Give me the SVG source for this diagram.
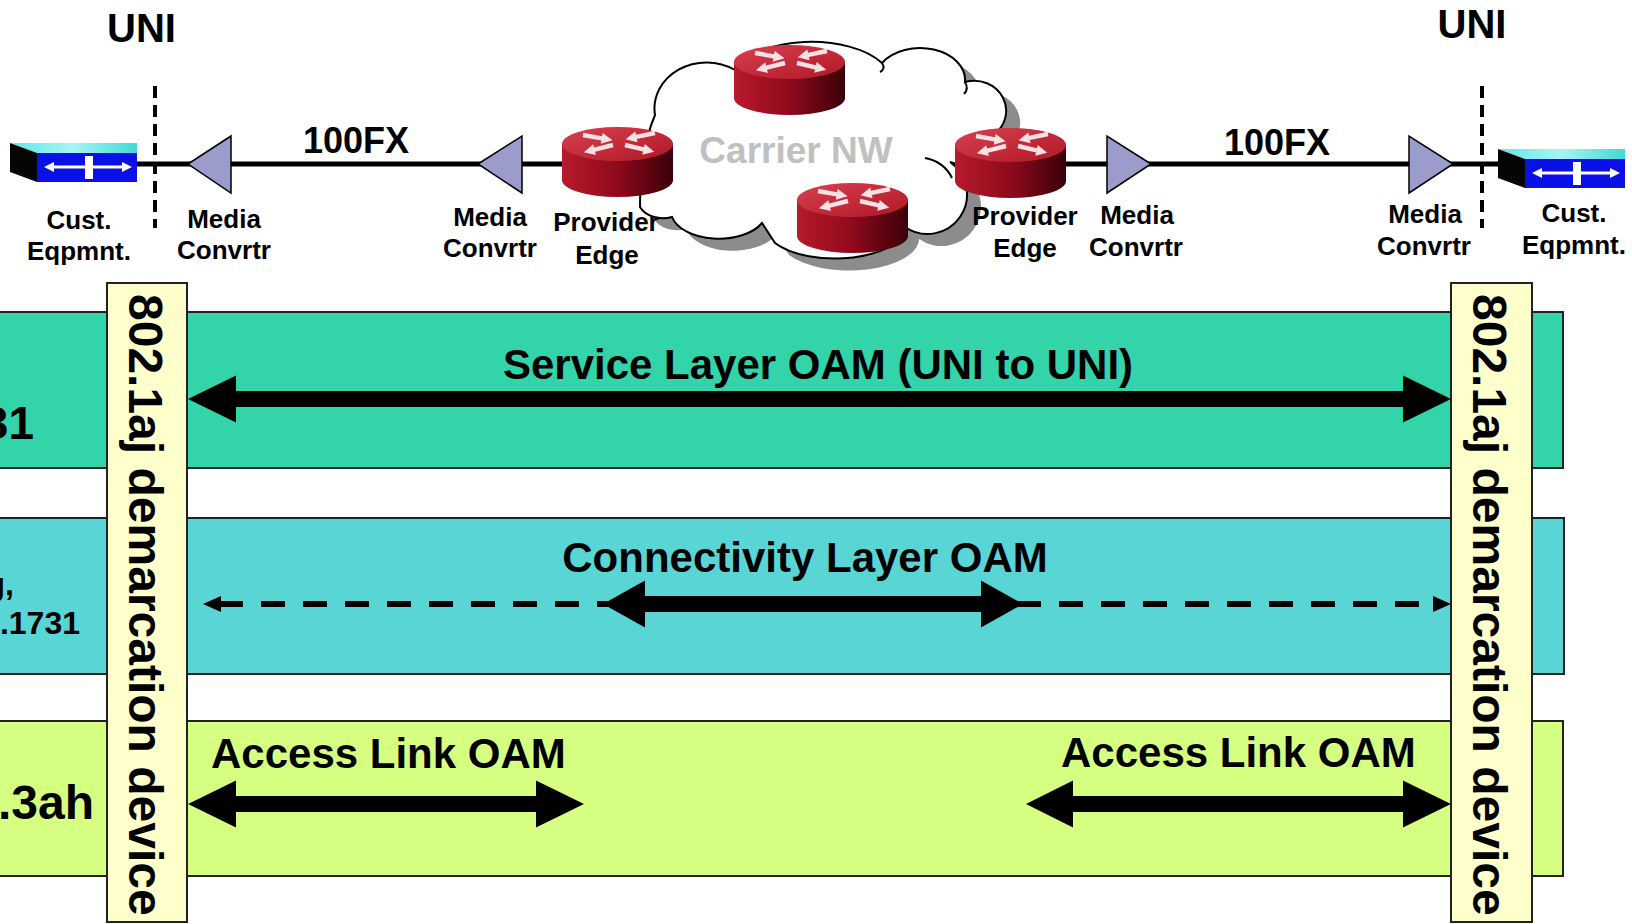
<svg xmlns="http://www.w3.org/2000/svg" width="1632" height="924" viewBox="0 0 1632 924">
<style>
.t{font-family:"Liberation Sans",Arial,sans-serif;font-weight:bold;fill:#000}
.lbl{font-size:26px;text-anchor:middle}
.uni{font-size:40px;text-anchor:middle}
.fx{font-size:36px;text-anchor:middle}
.oam{font-size:42px}
.side{text-anchor:end}
.vert{font-size:48px}
.band{stroke:#222;stroke-width:2}
.col{fill:#FFFFCC;stroke:#222;stroke-width:2}
.mc{fill:#9B9BCC;stroke:#000;stroke-width:1.5}
.link{stroke:#000;stroke-width:5;fill:none}
.uniline{stroke:#000;stroke-width:4;stroke-dasharray:12 7;fill:none}
.thick{fill:#000}
.dash{stroke:#000;stroke-width:6;stroke-dasharray:24 18;fill:none}
</style>
<defs>
<linearGradient id="rBody" x1="0" y1="0" x2="1" y2="0">
<stop offset="0" stop-color="#B81A2C"/>
<stop offset="0.5" stop-color="#8E0A1C"/>
<stop offset="1" stop-color="#3A0008"/>
</linearGradient>
<linearGradient id="rTop" x1="0" y1="0" x2="1" y2="1">
<stop offset="0" stop-color="#D84050"/>
<stop offset="1" stop-color="#B01828"/>
</linearGradient>
<linearGradient id="swTop" x1="0" y1="0" x2="1" y2="0">
<stop offset="0" stop-color="#5FE8E8"/>
<stop offset="0.5" stop-color="#A8F4F4"/>
<stop offset="1" stop-color="#40D8D8"/>
</linearGradient>
<polygon id="arw" points="0,-2.2 19,-2.2 19,-5.5 30,0 19,5.5 19,2.2 0,2.2"/>
<g id="router">
<path d="M0,17 L0,53 A55.5,17 0 0 0 111,53 L111,17 Z" fill="url(#rBody)"/>
<ellipse cx="55.5" cy="17" rx="55.5" ry="17" fill="url(#rTop)"/>
<g fill="#FFF4F4" opacity="0.9">
<use href="#arw" transform="translate(21,8) rotate(10)"/>
<use href="#arw" transform="translate(93,6) rotate(168)"/>
<use href="#arw" transform="translate(51,18) rotate(166)"/>
<use href="#arw" transform="translate(63,18) rotate(13)"/>
</g>
</g>
<g id="switch">
<polygon points="0,0 127,0 127,10 27,10" fill="url(#swTop)"/>
<polygon points="0,0 27,10 27,39 0,29" fill="#050505"/>
<rect x="27" y="10" width="100" height="29" fill="#0A10E6"/>
<g fill="#FFFFFF">
<rect x="42" y="22.5" width="72" height="3"/>
<polygon points="34,24 44,19 44,29"/>
<polygon points="122,24 112,19 112,29"/>
<rect x="75" y="13" width="8" height="23"/>
</g>
</g>
<path id="cloudShape" d="M640,207 Q640,150 655,115 A52,46 0 0 1 735,70 A80,40 0 0 1 882,63 A45,32 0 0 1 965,82 A32,30 0 0 1 993,135 A30,25 0 0 1 950,162 A36,36 0 0 1 905,227 A70,32 0 0 1 775,243 L762,223 A48,28 0 0 1 672,217 A25,18 0 0 1 640,207 Z"/>
</defs>

<rect width="1632" height="924" fill="#FFFFFF"/>

<g id="bands">
<rect id="band-service" class="band" x="-5" y="312" width="1568" height="156" fill="#33D4AA"/>
<rect id="band-connectivity" class="band" x="-5" y="518" width="1569" height="156" fill="#5AD5D5"/>
<rect id="band-access" class="band" x="-5" y="721" width="1568" height="155" fill="#D6FF82"/>
</g>

<g id="band-labels">
<text class="t side" x="34" y="439" font-size="46">31</text>
<text class="t side" x="14" y="595" font-size="32">g,</text>
<text class="t side" x="80" y="634" font-size="32">.1731</text>
<text class="t side" x="94" y="819" font-size="48">.3ah</text>
</g>

<g id="cloud">
<use href="#cloudShape" transform="translate(14,12)" fill="#8C8C8C"/>
<use href="#cloudShape" fill="#FFFFFF" stroke="#000" stroke-width="2"/>
<path fill="none" stroke="#000" stroke-width="2" d="M925,158 A36,36 0 0 1 952,178"/>
<path fill="none" stroke="#000" stroke-width="2" d="M882,63 Q886,69 880,72"/>
<path fill="none" stroke="#000" stroke-width="2" d="M965,82 Q969,89 964,94"/>
<text class="t" x="796" y="163" font-size="37" text-anchor="middle" style="fill:#C0C0C0">Carrier NW</text>
</g>

<g id="connectors">
<line class="link" x1="137" y1="164" x2="565" y2="164"/>
<line class="link" x1="1063" y1="164" x2="1500" y2="164"/>
<line class="uniline" x1="155" y1="86" x2="155" y2="228"/>
<line class="uniline" x1="1482" y1="86" x2="1482" y2="228"/>
<polygon class="thick" points="188,399 236,375.5 236,391 1403,391 1403,375.5 1451,399 1403,422.5 1403,407 236,407 236,422.5"/>
<line class="dash" x1="219" y1="604" x2="1435" y2="604"/>
<polygon class="thick" points="203,604 221,596 221,612"/>
<polygon class="thick" points="1451,604 1433,596 1433,612"/>
<polygon class="thick" points="603,604 645,580.5 645,596 981,596 981,580.5 1023,604 981,627.5 981,612 645,612 645,627.5"/>
<polygon class="thick" points="188,804 236,780.5 236,796 536,796 536,780.5 584,804 536,827.5 536,812 236,812 236,827.5"/>
<polygon class="thick" points="1026,804 1073,780.5 1073,796 1403,796 1403,780.5 1451,804 1403,827.5 1403,812 1073,812 1073,827.5"/>
</g>

<g id="cust-left"><use href="#switch" x="10" y="143"/>
<text class="t lbl" x="79" y="229">Cust.</text><text class="t lbl" x="79" y="260">Eqpmnt.</text></g>
<g id="cust-right"><use href="#switch" x="1498" y="149"/>
<text class="t lbl" x="1574" y="222">Cust.</text><text class="t lbl" x="1574" y="254">Eqpmnt.</text></g>

<g id="mc1"><polygon class="mc" points="188,164 231,136 231,193"/>
<text class="t lbl" x="224" y="228">Media</text><text class="t lbl" x="224" y="259">Convrtr</text></g>
<g id="mc2"><polygon class="mc" points="478,164 522,136 522,193"/>
<text class="t lbl" x="490" y="226">Media</text><text class="t lbl" x="490" y="257">Convrtr</text></g>
<g id="mc3"><polygon class="mc" points="1151,164 1107,136 1107,193"/>
<text class="t lbl" x="1137" y="224">Media</text><text class="t lbl" x="1136" y="256">Convrtr</text></g>
<g id="mc4"><polygon class="mc" points="1453,164 1409,136 1409,193"/>
<text class="t lbl" x="1425" y="223">Media</text><text class="t lbl" x="1424" y="255">Convrtr</text></g>

<g id="router-top"><use href="#router" x="734" y="45"/></g>
<g id="router-bottom"><use href="#router" x="797" y="183"/></g>
<g id="pe-left"><use href="#router" x="562" y="127"/>
<text class="t lbl" x="606" y="231">Provider</text><text class="t lbl" x="607" y="264">Edge</text></g>
<g id="pe-right"><use href="#router" x="955" y="128"/>
<text class="t lbl" x="1025" y="225">Provider</text><text class="t lbl" x="1025" y="257">Edge</text></g>

<g id="uni-labels">
<text class="t uni" x="141.5" y="42">UNI</text>
<text class="t uni" x="1472" y="38">UNI</text>
<text class="t fx" x="356" y="153">100FX</text>
<text class="t fx" x="1277" y="155">100FX</text>
</g>

<g id="oam-labels">
<text class="t oam" x="818" y="379" text-anchor="middle">Service Layer OAM (UNI to UNI)</text>
<text class="t oam" x="805" y="572" text-anchor="middle">Connectivity Layer OAM</text>
<text class="t oam" x="211" y="768">Access Link OAM</text>
<text class="t oam" x="1061" y="767">Access Link OAM</text>
</g>

<g id="demarc-left">
<rect class="col" x="107" y="283" width="80" height="639"/>
<text class="t vert" transform="translate(129,294) rotate(90)">802.1aj demarcation device</text>
</g>
<g id="demarc-right">
<rect class="col" x="1451" y="283" width="81" height="639"/>
<text class="t vert" transform="translate(1473,294) rotate(90)">802.1aj demarcation device</text>
</g>
</svg>
